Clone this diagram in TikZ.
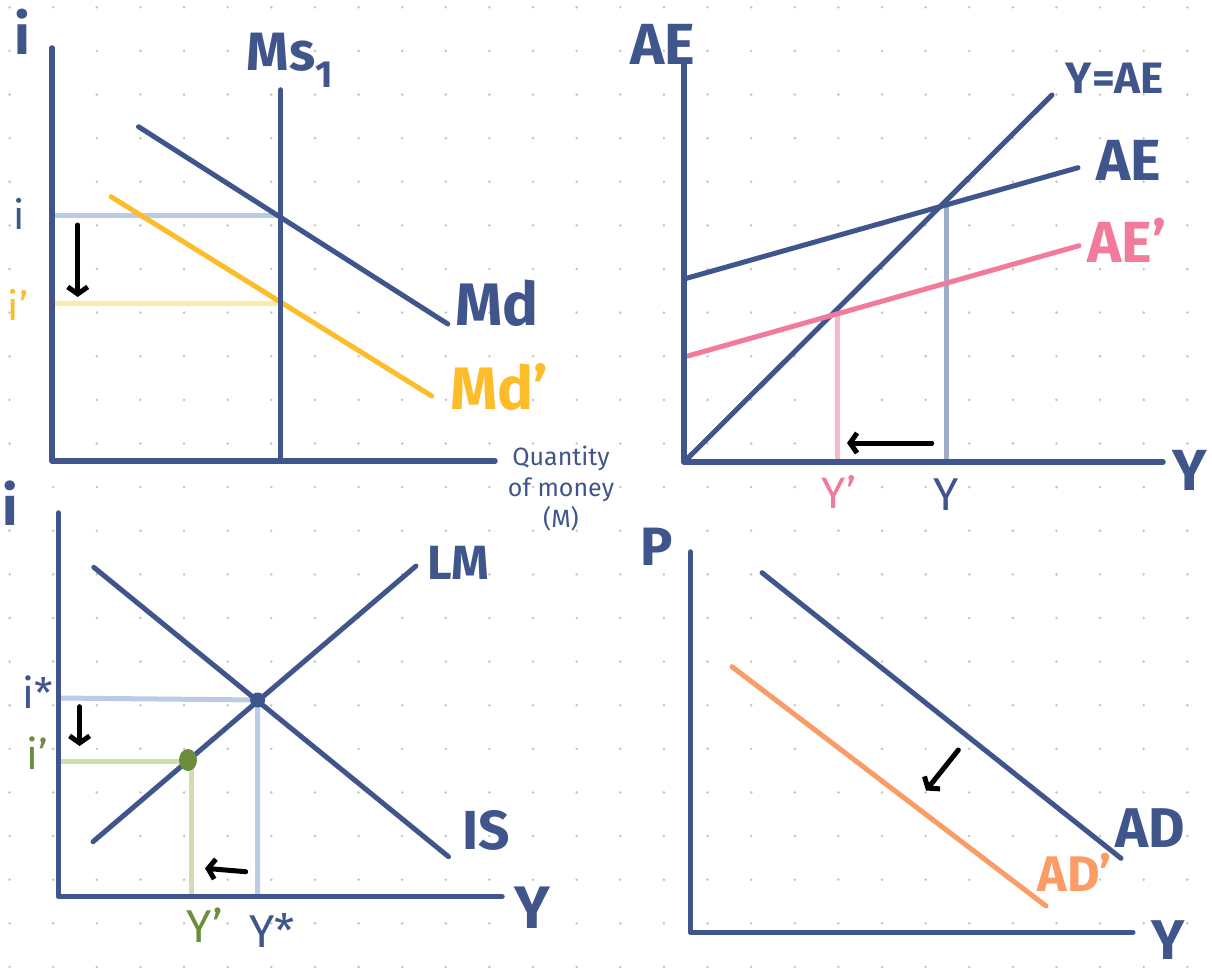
\documentclass[tikz,border=0pt]{standalone}
\usepackage{fontspec}
\setmainfont{Fira Sans}
\usetikzlibrary{arrows.meta}
\definecolor{navy}{HTML}{3F558C}
\definecolor{paleblue}{HTML}{B9CCE4}
\definecolor{gold}{HTML}{FDBD2A}
\definecolor{paleyellow}{HTML}{FDEAA6}
\definecolor{rose}{HTML}{F27B9B}
\definecolor{palerose}{HTML}{F8B8C8}
\definecolor{slate}{HTML}{9FACC6}
\definecolor{olive}{HTML}{6A8E3C}
\definecolor{palegreen}{HTML}{CFDEB0}
\definecolor{peach}{HTML}{FB9B66}
\definecolor{dotgray}{HTML}{C4C4C4}

\tikzset{
  axisline/.style={navy, line width=5.5pt, line cap=round, line join=round},
  curve/.style={line width=5pt, line cap=round},
  guide/.style={line width=5pt},
  shiftarrow/.style={black, line width=5pt, line cap=round, -{Straight Barb[length=7pt,width=20pt]}},
  biglabel/.style={text=navy, font=\fontsize{#1}{#1}\selectfont\bfseries, inner sep=0pt},
  biglabel/.default=56,
  smalllabel/.style={text=navy, font=\fontsize{#1}{#1}\selectfont, inner sep=0pt},
  smalllabel/.default=40,
}

\begin{document}
\begin{tikzpicture}[x=1pt,y=-1pt]
\useasboundingbox[fill=white] (0,0) rectangle (1212,973);

% dot grid
\foreach \gx in {0,...,27}
  \foreach \gy in {0,...,22}
    \fill[dotgray] (9.6+43.62*\gx, 7.3+43.62*\gy) circle (1.4);

% money market
\coordinate (mOrigin) at (52,461);
\coordinate (mTop) at (52,48);
\coordinate (mEnd) at (495,461);
\coordinate (msTop) at (280.5,90);
\coordinate (msBot) at (280.5,461);
\coordinate (mEq) at (280.5,216);
\coordinate (mEqNew) at (280.5,304);
\draw[guide, paleblue] (52,216) -- (mEq);
\draw[guide, paleyellow] (52,304) -- (mEqNew);
\draw[curve, navy] (138.5,126.7) -- (447.8,324);
\draw[curve, gold] (111,196.7) -- (431.7,396);
\draw[axisline] (msTop) -- (msBot);
\draw[axisline] (mTop) -- (mOrigin) -- (mEnd);
\draw[shiftarrow] (77.7,225) -- (77.7,297);

\node[biglabel=56] (mAxisI) at (22,32) {i};
\node[biglabel=54] (msLabel) at (290,60) {Ms\textsubscript{1}};
\node[biglabel=60] (mdLabel) at (497,303) {Md};
\node[biglabel=60, text=gold] (mdNewLabel) at (499,387) {Md'};
\node[smalllabel=40] (mI) at (19,214) {i};
\node[smalllabel=40, text=gold] (mINew) at (18,305) {i'};
\node[align=center, text=navy, inner sep=0pt, font=\fontsize{25}{31}\selectfont] (mQty) at (561,489) {Quantity\\of money\\(M)};

% income-expenditure
\coordinate (aOrigin) at (684,462);
\coordinate (aTop) at (684,62);
\coordinate (aEnd) at (1163,462);
\coordinate (aEq) at (946,202);
\coordinate (aEqNew) at (837,315);
\draw[guide, slate] (aEq) -- (946,462);
\draw[guide, palerose] (aEqNew) -- (837,462);
\draw[curve, navy] (aOrigin) -- (1052,95);
\draw[curve, navy] (684,279) -- (1078,167.7);
\draw[curve, rose] (687.8,356) -- (1079,245.7);
\draw[axisline] (aTop) -- (aOrigin) -- (aEnd);
\draw[shiftarrow] (931.8,443) -- (847,443);

\node[biglabel=58] (aAxisAE) at (663,44) {AE};
\node[biglabel=58] (aAxisY) at (1190,470) {Y};
\node[biglabel=44] (aLineLabel) at (1115,78) {Y=AE};
\node[biglabel=58] (aeLabel) at (1129,160) {AE};
\node[biglabel=58, text=rose] (aeNewLabel) at (1127,240) {AE'};
\node[smalllabel=44, text=rose] (aYNew) at (839,492) {Y'};
\node[smalllabel=46] (aY) at (946,495) {Y};

% IS-LM
\coordinate (lOrigin) at (58.6,896.7);
\coordinate (lTop) at (58.6,513);
\coordinate (lEnd) at (502,896.7);
\coordinate (lEq) at (257.6,700);
\coordinate (lEqNew) at (188,760);
\draw[guide, paleblue] (58.6,698) -- (lEq) -- (257.6,896.7);
\draw[guide, palegreen] (58.6,761) -- (191.4,761) -- (191.4,896.7);
\draw[curve, navy] (93.8,567.3) -- (448.5,856.7);
\draw[curve, navy] (93,841.7) -- (416,566);
\draw[axisline] (lTop) -- (lOrigin) -- (lEnd);
\fill[navy] (lEq) circle (7.5);
\fill[olive] (lEqNew) ellipse (9 and 11);
\draw[shiftarrow] (79.6,706.7) -- (79.6,746);
\draw[shiftarrow] (245.7,871.7) -- (205,868.3);

\node[biglabel=55] (lAxisI) at (10,503) {i};
\node[biglabel=60] (lAxisY) at (532,908) {Y};
\node[biglabel=48] (lmLabel) at (458,563) {LM};
\node[biglabel=55] (isLabel) at (486,830) {IS};
\node[smalllabel=42] (lIStar) at (38,692) {i*};
\node[smalllabel=42, text=olive] (lINew) at (37,753) {i'};
\node[smalllabel=46, text=olive] (lYNew) at (205,925) {Y'};
\node[smalllabel=46] (lYStar) at (272,930) {Y*};

% aggregate demand
\coordinate (dOrigin) at (690.6,932.3);
\coordinate (dTop) at (690.6,552);
\coordinate (dEnd) at (1132.8,932.3);
\draw[curve, navy] (762,572.7) -- (1121,858.3);
\draw[curve, peach] (732,666.7) -- (1046,906);
\draw[axisline] (dTop) -- (dOrigin) -- (dEnd);
\draw[shiftarrow] (958.3,750) -- (926,790.5);

\node[biglabel=54] (dAxisP) at (657,547) {P};
\node[biglabel=56] (dAxisY) at (1168,940) {Y};
\node[biglabel=56] (adLabel) at (1150,828) {AD};
\node[biglabel=50, text=peach] (adNewLabel) at (1075,872) {AD'};
\end{tikzpicture}
\end{document}
